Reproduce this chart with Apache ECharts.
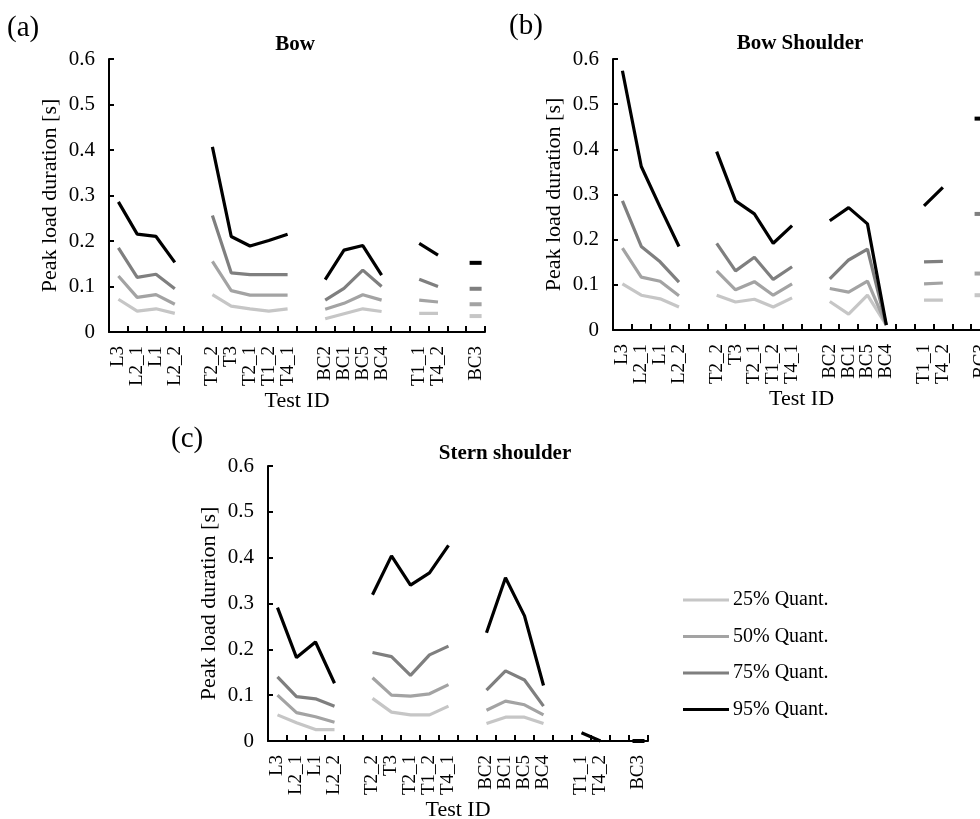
<!DOCTYPE html>
<html>
<head>
<meta charset="utf-8">
<script src="https://cdn.jsdelivr.net/npm/echarts@6/dist/echarts.min.js"></script>
<style>
html,body{margin:0;padding:0;background:#fff;}
#chart{width:980px;height:819px;}
</style>
</head>
<body>
<div id="chart"></div>
<script>
// ---- data ----
const testIds = ['L3','L2_1','L1','L2_2','T2_2','T3','T2_1','T1_2','T4_1','BC2','BC1','BC5','BC4','T1_1','T4_2','BC3'];
const groupSizes = [4, 5, 4, 2, 1];
const quantNames = ['25% Quant.', '50% Quant.', '75% Quant.', '95% Quant.'];
const yTicks = [0, 0.1, 0.2, 0.3, 0.4, 0.5, 0.6];

// (a) Bow
const bowQ25 = [0.072,0.046,0.051,0.041, 0.082,0.057,0.051,0.046,0.051, 0.029,0.040,0.051,0.045, 0.041,0.041, 0.035];
const bowQ50 = [0.123,0.076,0.082,0.061, 0.155,0.091,0.081,0.081,0.081, 0.050,0.063,0.082,0.070, 0.070,0.066, 0.061];
const bowQ75 = [0.185,0.120,0.127,0.095, 0.256,0.130,0.126,0.126,0.126, 0.070,0.096,0.136,0.100, 0.116,0.100, 0.095];
const bowQ95 = [0.286,0.215,0.210,0.153, 0.407,0.210,0.189,0.201,0.215, 0.115,0.180,0.190,0.125, 0.195,0.169, 0.152];

// (b) Bow Shoulder
const bsQ25 = [0.102,0.077,0.069,0.051, 0.077,0.062,0.068,0.051,0.071, 0.063,0.035,0.077,0.011, 0.066,0.066, 0.077];
const bsQ50 = [0.181,0.117,0.108,0.076, 0.131,0.089,0.107,0.077,0.102, 0.092,0.084,0.108,0.011, 0.102,0.104, 0.125];
const bsQ75 = [0.286,0.185,0.151,0.106, 0.192,0.131,0.161,0.112,0.140, 0.113,0.155,0.179,0.011, 0.151,0.152, 0.257];
const bsQ95 = [0.574,0.362,0.272,0.185, 0.395,0.286,0.257,0.192,0.231, 0.242,0.271,0.235,0.011, 0.275,0.316, 0.468];

// (c) Stern shoulder
const ssQ25 = [0.057,0.040,0.025,0.025, 0.093,0.063,0.057,0.057,0.076, 0.038,0.052,0.052,0.038, null,null, null];
const ssQ50 = [0.100,0.062,0.053,0.041, 0.138,0.100,0.098,0.103,0.123, 0.067,0.087,0.079,0.057, null,null, null];
const ssQ75 = [0.140,0.097,0.092,0.076, 0.193,0.184,0.143,0.188,0.207, 0.111,0.153,0.133,0.076, null,null, null];
const ssQ95 = [0.291,0.182,0.216,0.126, 0.319,0.404,0.340,0.367,0.427, 0.236,0.356,0.273,0.121, 0.018,0.000, 0.000];

// ---- build ----
const FONT = "'Liberation Serif','Times New Roman',serif";
const colors = ['#c6c6c6', '#a3a3a3', '#7f7f7f', '#000000'];

function withGaps(arr, gapMaker) {
  const out = []; let i = 0;
  groupSizes.forEach((g, gi) => {
    for (let k = 0; k < g; k++) out.push(arr[i++]);
    if (gi < groupSizes.length - 1) out.push(gapMaker(gi));
  });
  return out;
}
const axisCats = withGaps(testIds, gi => ' '.repeat(gi + 1));

function seriesData(arr) {
  const full = withGaps(arr, () => null);
  return full.map((v, i) => {
    if (v == null) return null;
    const prev = i > 0 ? full[i - 1] : null;
    const next = i < full.length - 1 ? full[i + 1] : null;
    if (prev == null && next == null) {
      return { value: v, symbol: 'rect', symbolSize: [12, 4] };
    }
    return v;
  });
}

const panels = [
  { grid: { left: 109, top: 59, width: 376, height: 273 }, data: [bowQ25, bowQ50, bowQ75, bowQ95] },
  { grid: { left: 613, top: 59, width: 377, height: 271 }, data: [bsQ25, bsQ50, bsQ75, bsQ95] },
  { grid: { left: 268, top: 466, width: 380, height: 275 }, data: [ssQ25, ssQ50, ssQ75, ssQ95] }
];

const grids = [], xAxes = [], yAxes = [], series = [];
panels.forEach((p, pi) => {
  grids.push(Object.assign({ containLabel: false, outerBoundsMode: 'none' }, p.grid));
  xAxes.push({
    type: 'category', gridIndex: pi, data: axisCats, boundaryGap: true,
    name: 'Test ID', nameLocation: 'middle', nameGap: 52,
    nameTextStyle: { fontFamily: FONT, fontSize: 22, color: '#000' },
    axisLine: { lineStyle: { color: '#000', width: 2 } },
    axisTick: { show: true, inside: true, length: 6, interval: 0, lineStyle: { color: '#000', width: 2 } },
    axisLabel: { interval: 0, rotate: 90, margin: 14, fontFamily: FONT, fontSize: 19, color: '#000', hideOverlap: false },
    splitLine: { show: false }
  });
  yAxes.push({
    type: 'value', gridIndex: pi, min: yTicks[0], max: yTicks[yTicks.length - 1], interval: 0.1,
    name: 'Peak load duration [s]', nameLocation: 'middle', nameGap: 48,
    nameTextStyle: { fontFamily: FONT, fontSize: 22, color: '#000' },
    axisLine: { show: true, lineStyle: { color: '#000', width: 2 } },
    axisTick: { show: true, inside: true, length: 5, lineStyle: { color: '#000', width: 2 } },
    axisLabel: { margin: 14, fontFamily: FONT, fontSize: 21, color: '#000' },
    splitLine: { show: false }
  });
  p.data.forEach((arr, qi) => {
    series.push({
      type: 'line', name: quantNames[qi], xAxisIndex: pi, yAxisIndex: pi,
      data: seriesData(arr), connectNulls: false, clip: false,
      symbol: 'none', showSymbol: true, showAllSymbol: true,
      color: colors[qi],
      lineStyle: { color: colors[qi], width: 3.2 },
      itemStyle: { color: colors[qi], borderWidth: 0 },
      emphasis: { disabled: true },
      animation: false, z: 2 + qi
    });
  });
});

const chart = echarts.init(document.getElementById('chart'), null, { renderer: 'canvas' });
chart.setOption({
  backgroundColor: '#fff',
  animation: false,
  grid: grids, xAxis: xAxes, yAxis: yAxes, series: series,
  legend: {
    data: quantNames, orient: 'vertical', left: 678, top: 585,
    icon: 'rect', itemWidth: 46, itemHeight: 3, itemGap: 16.5,
    textStyle: { fontFamily: FONT, fontSize: 20, color: '#000', padding: [0, 0, 0, -1] },
    selectedMode: false
  },
  graphic: [
    { type: 'text', left: 7, top: 14, style: { text: '(a)', font: '29px ' + FONT, fill: '#000' } },
    { type: 'text', left: 509, top: 12, style: { text: '(b)', font: '29px ' + FONT, fill: '#000' } },
    { type: 'text', left: 171, top: 425, style: { text: '(c)', font: '29px ' + FONT, fill: '#000' } },
    { type: 'text', x: 295, y: 45, style: { text: 'Bow', font: 'bold 21px ' + FONT, fill: '#000', textAlign: 'center', textVerticalAlign: 'middle' } },
    { type: 'text', x: 800, y: 44, style: { text: 'Bow Shoulder', font: 'bold 21px ' + FONT, fill: '#000', textAlign: 'center', textVerticalAlign: 'middle' } },
    { type: 'text', x: 505, y: 454, style: { text: 'Stern shoulder', font: 'bold 21px ' + FONT, fill: '#000', textAlign: 'center', textVerticalAlign: 'middle' } }
  ]
});
</script>
</body>
</html>
